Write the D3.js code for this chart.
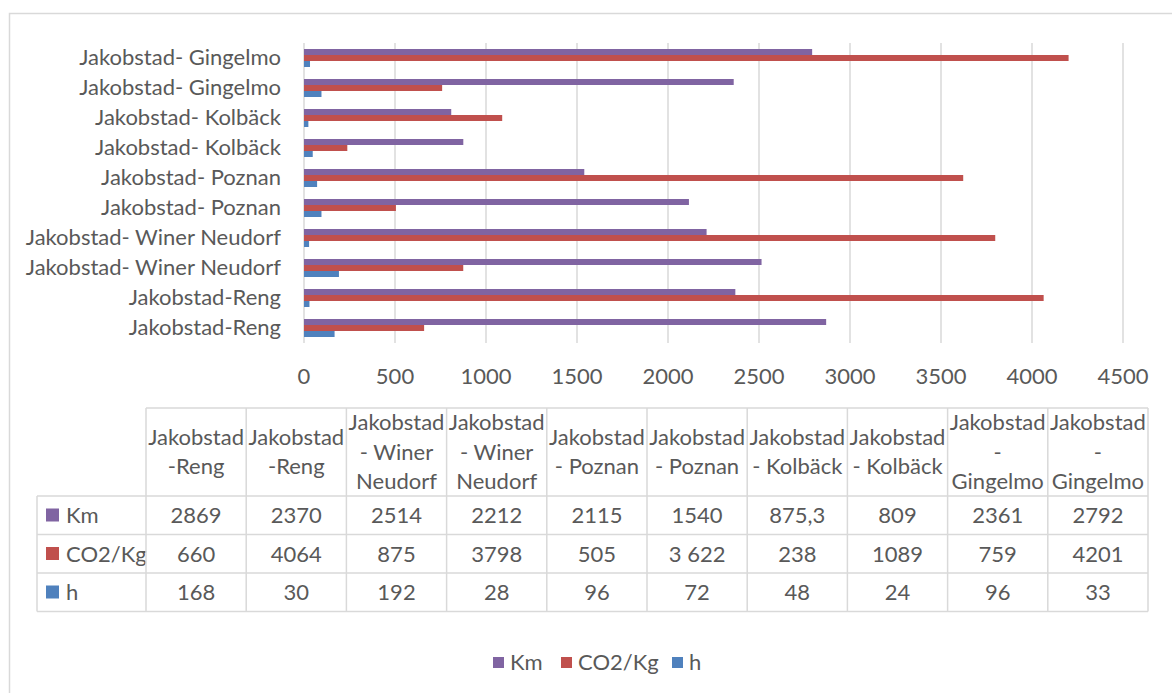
<!DOCTYPE html>
<html>
<head>
<meta charset="utf-8">
<script src="https://cdn.jsdelivr.net/npm/d3@7/dist/d3.min.js"></script>
<style>
  html, body { margin: 0; padding: 0; background: #fff; }
  svg { display: block; font-family: Lato, "Open Sans", sans-serif; }
</style>
</head>
<body>
<svg id="chart" width="1172" height="693"></svg>
<script>
// Routes, in data order (the table reads left to right in this order,
// the bar axis lists them bottom to top).
const routes = [
  "Jakobstad-Reng",
  "Jakobstad-Reng",
  "Jakobstad- Winer Neudorf",
  "Jakobstad- Winer Neudorf",
  "Jakobstad- Poznan",
  "Jakobstad- Poznan",
  "Jakobstad- Kolbäck",
  "Jakobstad- Kolbäck",
  "Jakobstad- Gingelmo",
  "Jakobstad- Gingelmo"
];

// Values as written in the data table (decimal comma, space grouping).
const kmLabels  = ["2869", "2370", "2514", "2212", "2115", "1540", "875,3", "809", "2361", "2792"];
const co2Labels = ["660", "4064", "875", "3798", "505", "3 622", "238", "1089", "759", "4201"];
const hLabels   = ["168", "30", "192", "28", "96", "72", "48", "24", "96", "33"];

const seriesNames  = ["Km", "CO2/Kg", "h"];
const seriesColors = ["#8064A2", "#C0504D", "#4F81BD"];
const xTicks = [0, 500, 1000, 1500, 2000, 2500, 3000, 3500, 4000, 4500];

const toNumber = s => parseFloat(s.replace(/\s/g, "").replace(",", "."));
const series = [kmLabels, co2Labels, hLabels].map((labels, i) => ({
  name: seriesNames[i],
  color: seriesColors[i],
  labels: labels,
  values: labels.map(toNumber)
}));

const svg = d3.select("#chart");
const textColor = "#595959";
const lineColor = "#d9d9d9";
const fontSize = 22;

// Chart frame
svg.append("rect")
  .attr("x", 9.5).attr("y", 13.5)
  .attr("width", 1200).attr("height", 700)
  .attr("fill", "#fff")
  .attr("stroke", lineColor).attr("stroke-width", 1.5);

// ---- Bar plot ----
const plot = { left: 304, right: 1123, top: 43, bottom: 343 };
const x = d3.scaleLinear().domain([0, 4500]).range([plot.left, plot.right]);

// Category index 0 sits at the bottom
const idx = d3.range(routes.length);
const y = d3.scaleBand()
  .domain(idx.slice().reverse())
  .range([plot.top, plot.bottom])
  .paddingInner(0.4)
  .paddingOuter(0.2);
const ySub = d3.scaleBand()
  .domain(seriesNames)
  .range([0, y.bandwidth()]);

// Vertical grid lines
svg.append("g")
  .selectAll("line")
  .data(xTicks)
  .join("line")
  .attr("x1", d => x(d)).attr("x2", d => x(d))
  .attr("y1", plot.top).attr("y2", plot.bottom)
  .attr("stroke", lineColor).attr("stroke-width", 1.5);

// Bars
const groups = svg.append("g")
  .selectAll("g")
  .data(idx)
  .join("g")
  .attr("transform", i => `translate(0,${y(i)})`);

groups.selectAll("rect")
  .data(i => series.map(s => ({ name: s.name, color: s.color, value: s.values[i] })))
  .join("rect")
  .attr("x", x(0))
  .attr("y", d => ySub(d.name))
  .attr("width", d => x(d.value) - x(0))
  .attr("height", ySub.bandwidth())
  .attr("fill", d => d.color);

// Category labels
svg.append("g")
  .selectAll("text")
  .data(idx)
  .join("text")
  .attr("x", 281)
  .attr("y", i => y(i) - y.step() * 0.2 + y.step() / 2 + 7)
  .attr("text-anchor", "end")
  .attr("fill", textColor)
  .attr("font-size", fontSize)
  .text(i => routes[i]);

// X tick labels
svg.append("g")
  .selectAll("text")
  .data(xTicks)
  .join("text")
  .attr("x", d => x(d))
  .attr("y", 384)
  .attr("text-anchor", "middle")
  .attr("fill", textColor)
  .attr("font-size", fontSize)
  .text(d => d);

// ---- Data table ----
const table = { left: 37, keyRight: 146, right: 1148, top: 408, headBottom: 496, rowH: 38.5 };
const colX = d3.scaleBand()
  .domain(idx)
  .range([table.keyRight, table.right]);
const rowY = d => table.headBottom + d * table.rowH;
const tableBottom = rowY(series.length);

const tg = svg.append("g");

// Header cells: wrap route names into the column width
const measurer = svg.append("text").attr("font-size", fontSize).attr("visibility", "hidden");
const measure = s => { measurer.text(s); return measurer.node().getComputedTextLength(); };
function wrapRoute(name) {
  const cut = name.indexOf("-");
  const head = name.slice(0, cut);
  const words = name.slice(cut).split(" ");
  const lines = [head];
  let cur = "";
  words.forEach(w => {
    const trial = cur ? cur + " " + w : w;
    if (cur && measure(trial) > colX.bandwidth() - 3) {
      lines.push(cur);
      cur = w;
    } else {
      cur = trial;
    }
  });
  if (cur) lines.push(cur);
  return lines;
}

const headCenter = (table.top + table.headBottom) / 2;
const lineGap = 29.5;
idx.forEach(i => {
  const lines = wrapRoute(routes[i]);
  const cx = colX(i) + colX.bandwidth() / 2;
  tg.append("text")
    .attr("text-anchor", "middle")
    .attr("fill", textColor)
    .attr("font-size", fontSize)
    .selectAll("tspan")
    .data(lines)
    .join("tspan")
    .attr("x", cx)
    .attr("y", (d, k) => headCenter + 7.5 + (k - (lines.length - 1) / 2) * lineGap)
    .text(d => d);
});
measurer.remove();

// Value cells
series.forEach((s, r) => {
  const cy = rowY(r) + table.rowH / 2 + 8;
  tg.append("g")
    .selectAll("text")
    .data(idx)
    .join("text")
    .attr("x", i => colX(i) + colX.bandwidth() / 2)
    .attr("y", cy)
    .attr("text-anchor", "middle")
    .attr("fill", textColor)
    .attr("font-size", fontSize)
    .text(i => s.labels[i]);
  // Legend key in the first column
  tg.append("rect")
    .attr("x", 46).attr("y", rowY(r) + 12.5)
    .attr("width", 13).attr("height", 13)
    .attr("fill", s.color);
  tg.append("text")
    .attr("x", 66).attr("y", cy)
    .attr("fill", textColor)
    .attr("font-size", fontSize)
    .text(s.name);
});

// Table grid lines
const gl = tg.append("g").attr("stroke", lineColor).attr("stroke-width", 1.5);
// verticals through the header
[...idx.map(i => colX(i)), table.right].forEach(vx => {
  gl.append("line").attr("x1", vx).attr("x2", vx).attr("y1", table.top).attr("y2", tableBottom);
});
gl.append("line").attr("x1", table.left).attr("x2", table.left).attr("y1", table.headBottom).attr("y2", tableBottom);
gl.append("line").attr("x1", table.keyRight).attr("x2", table.right).attr("y1", table.top).attr("y2", table.top);
d3.range(series.length + 1).forEach(r => {
  gl.append("line").attr("x1", table.left).attr("x2", table.right).attr("y1", rowY(r)).attr("y2", rowY(r));
});

// ---- Legend ----
const legendItems = [
  { name: "Km", sq: 493 },
  { name: "CO2/Kg", sq: 561 },
  { name: "h", sq: 672 }
];
const lg = svg.append("g");
legendItems.forEach((d, i) => {
  lg.append("rect")
    .attr("x", d.sq).attr("y", 657)
    .attr("width", 11).attr("height", 11)
    .attr("fill", series[i].color);
  lg.append("text")
    .attr("x", d.sq + 17).attr("y", 670)
    .attr("fill", textColor)
    .attr("font-size", fontSize)
    .text(series[i].name);
});
</script>
</body>
</html>
